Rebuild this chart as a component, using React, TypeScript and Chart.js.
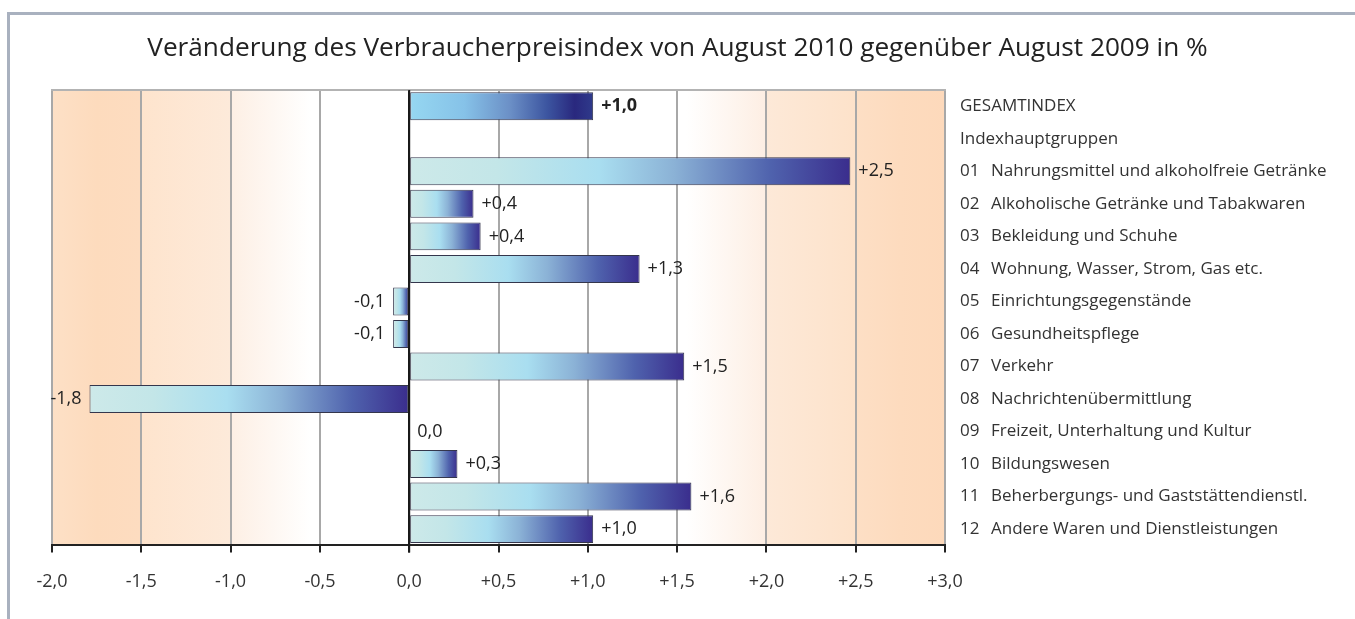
import React, { useEffect, useRef } from "react";
import { Chart, registerables } from "chart.js";

Chart.register(...registerables);

const TITLE = "Veränderung des Verbraucherpreisindex von August 2010 gegenüber August 2009 in %";

const codes = ["", "", "01", "02", "03", "04", "05", "06", "07", "08", "09", "10", "11", "12"];
const names = [
  "GESAMTINDEX",
  "Indexhauptgruppen",
  "Nahrungsmittel und alkoholfreie Getränke",
  "Alkoholische Getränke und Tabakwaren",
  "Bekleidung und Schuhe",
  "Wohnung, Wasser, Strom, Gas etc.",
  "Einrichtungsgegenstände",
  "Gesundheitspflege",
  "Verkehr",
  "Nachrichtenübermittlung",
  "Freizeit, Unterhaltung und Kultur",
  "Bildungswesen",
  "Beherbergungs- und Gaststättendienstl.",
  "Andere Waren und Dienstleistungen",
];
const values: (number | null)[] = [1.03, null, 2.47, 0.36, 0.4, 1.29, -0.09, -0.09, 1.54, -1.79, 0.0, 0.27, 1.58, 1.03];

const X_MIN = -2;
const X_MAX = 3;
const X_STEP = 0.5;

const FONT = "'Open Sans', 'Noto Sans', sans-serif";

function fmt(v: number): string {
  const r = Math.round(v * 10) / 10;
  const s = Math.abs(r).toFixed(1).replace(".", ",");
  if (r > 0) return "+" + s;
  if (r < 0) return "-" + s;
  return s;
}

export default function App() {
  const ref = useRef<HTMLCanvasElement | null>(null);

  useEffect(() => {
    const canvas = ref.current;
    if (!canvas) return;

    const bgPlugin = {
      id: "bgGrad",
      beforeDraw(chart: any) {
        const { ctx, chartArea } = chart;
        const xs = chart.scales.x;
        if (!chartArea) return;
        const x0 = xs.getPixelForValue(X_MIN);
        const x1 = xs.getPixelForValue(X_MAX);
        const g = ctx.createLinearGradient(x0, 0, x1, 0);
        const off = (v: number) => (v - X_MIN) / (X_MAX - X_MIN);
        const stops: [number, string][] = [
          [-2.0, "#fde0c6"],
          [-1.75, "#fddbbd"],
          [-1.5, "#fddcc0"],
          [-1.499, "#fee4cd"],
          [-1.0, "#fdeada"],
          [-0.999, "#fdefe4"],
          [-0.55, "#ffffff"],
          [1.55, "#ffffff"],
          [2.0, "#fdeee3"],
          [2.001, "#fde9d8"],
          [2.5, "#fde2ca"],
          [2.501, "#fddfc5"],
          [2.75, "#fddbbe"],
          [3.0, "#fdd9bb"],
        ];
        stops.forEach(([v, c]) => g.addColorStop(off(v), c));
        ctx.save();
        ctx.fillStyle = g;
        ctx.fillRect(chartArea.left, chartArea.top, chartArea.right - chartArea.left, chartArea.bottom - chartArea.top);
        ctx.restore();
      },
    };

    const overlayPlugin = {
      id: "overlay",
      afterDatasetsDraw(chart: any) {
        const { ctx, chartArea } = chart;
        const xs = chart.scales.x;
        const ys = chart.scales.y;
        const zx = xs.getPixelForValue(0);
        ctx.save();
        // title, centred on the whole canvas
        ctx.fillStyle = "#222";
        ctx.textAlign = "center";
        ctx.textBaseline = "middle";
        ctx.font = "26.2px " + FONT;
        ctx.fillText(TITLE, chart.width / 2, 48.8);
        // top frame line
        ctx.strokeStyle = "#b3b3b3";
        ctx.lineWidth = 2;
        ctx.beginPath();
        ctx.moveTo(chartArea.left - 1, chartArea.top);
        ctx.lineTo(chartArea.right + 1, chartArea.top);
        ctx.stroke();
        // zero line
        ctx.strokeStyle = "#1a1a1a";
        ctx.lineWidth = 2;
        ctx.beginPath();
        ctx.moveTo(zx, chartArea.top);
        ctx.lineTo(zx, chartArea.bottom + 7);
        ctx.stroke();
        // value labels
        ctx.fillStyle = "#222";
        values.forEach((v, i) => {
          if (v === null) return;
          const y = ys.getPixelForValue(i);
          const px = xs.getPixelForValue(v);
          ctx.font = (i === 0 ? "bold " : "") + "18px " + FONT;
          if (v < 0) {
            ctx.textAlign = "right";
            ctx.fillText(fmt(v), Math.min(px, zx) - 8, y);
          } else {
            ctx.textAlign = "left";
            ctx.fillText(fmt(v), Math.max(px, zx) + 8, y);
          }
        });
        // category labels
        ctx.fillStyle = "#333";
        ctx.textAlign = "left";
        ctx.font = "17px " + FONT;
        const lx = chartArea.right + 15;
        names.forEach((n, i) => {
          const y = ys.getPixelForValue(i);
          if (codes[i]) {
            ctx.fillText(codes[i], lx, y);
            ctx.fillText(n, lx + 31, y);
          } else {
            ctx.fillText(n, lx, y);
          }
        });
        ctx.restore();
      },
    };

    const barFill = (c: any) => {
      const chart = c.chart;
      const xs = chart.scales?.x;
      const v = values[c.dataIndex];
      if (!xs || !chart.chartArea || v === null || v === undefined) return "#8cb3d6";
      const a = xs.getPixelForValue(0);
      const b = xs.getPixelForValue(v);
      const l = Math.min(a, b);
      const r = Math.max(a, b);
      if (r - l < 1) return "#8cb3d6";
      const g = chart.ctx.createLinearGradient(l, 0, r, 0);
      if (c.dataIndex === 0) {
        g.addColorStop(0, "#96d7f1");
        g.addColorStop(0.3, "#86c2e8");
        g.addColorStop(0.55, "#6b8fc6");
        g.addColorStop(0.75, "#3c55a0");
        g.addColorStop(0.9, "#29287e");
        g.addColorStop(1, "#2f3a8b");
      } else {
        g.addColorStop(0, "#cde9e9");
        g.addColorStop(0.2, "#c3e6e8");
        g.addColorStop(0.43, "#a9def0");
        g.addColorStop(0.6, "#8bb2d6");
        g.addColorStop(0.82, "#4f62ad");
        g.addColorStop(1, "#3a2d8d");
      }
      return g;
    };

    const chart = new Chart(canvas, {
      type: "bar",
      data: {
        labels: names,
        datasets: [
          {
            data: values as any,
            backgroundColor: barFill as any,
            borderColor: "#34364c",
            borderWidth: 1,
            borderSkipped: false,
            barPercentage: 0.86,
            categoryPercentage: 1,
          },
        ],
      },
      plugins: [bgPlugin, overlayPlugin],
      options: {
        indexAxis: "y",
        animation: false,
        responsive: false,
        maintainAspectRatio: false,
        layout: { padding: { left: 52, right: 0, top: 90, bottom: 7 } },
        plugins: {
          legend: { display: false },
          tooltip: { enabled: false },
          title: { display: false },
        },
        scales: {
          x: {
            type: "linear",
            min: X_MIN,
            max: X_MAX,
            position: "bottom",
            ticks: {
              stepSize: X_STEP,
              color: "#333",
              font: { family: FONT, size: 18 },
              padding: 19,
              maxRotation: 0,
              autoSkip: false,
              callback: (v: any) => fmt(Number(v)),
            },
            grid: {
              color: (c: any) => (c.tick && c.tick.value === 0 ? "#1a1a1a" : "#a8a8a8"),
              lineWidth: 2,
              drawTicks: true,
              tickLength: 7,
              tickColor: "#222",
              tickWidth: 2,
            },
            border: { display: true, color: "#222", width: 2 },
          },
          y: {
            type: "category",
            position: "right",
            grid: { display: false },
            border: { display: false },
            ticks: { display: false },
            afterFit: (s: any) => {
              s.width = 410;
            },
          },
        },
      },
    });

    return () => chart.destroy();
  }, []);

  return (
    <div style={{ position: "fixed", left: 0, top: 0, width: 1355, height: 619, overflow: "hidden", background: "#fff" }}>
      <div
        style={{
          position: "absolute",
          left: 7,
          top: 12,
          width: 2000,
          height: 2000,
          borderTop: "3px solid #a9b1bf",
          borderLeft: "3px solid #a9b1bf",
        }}
      />
      <canvas ref={ref} width={1355} height={619} style={{ position: "absolute", left: 0, top: 0, width: 1355, height: 619 }} />
    </div>
  );
}
